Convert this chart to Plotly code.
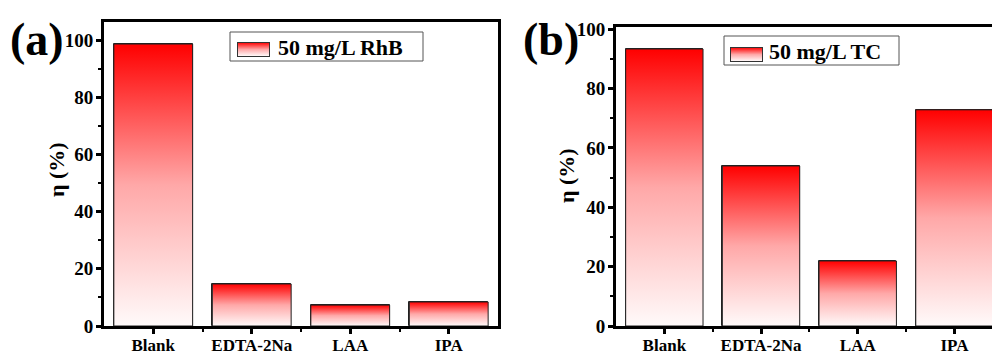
import base64
import plotly.graph_objects as go

# ---------------- data ----------------
categories = ["Blank", "EDTA-2Na", "LAA", "IPA"]
eta_rhb = [98.6, 14.7, 7.3, 8.4]      # panel (a), 50 mg/L RhB
eta_tc = [93.3, 53.9, 21.9, 72.8]     # panel (b), 50 mg/L TC
y_ticks = [0, 20, 40, 60, 80, 100]
legend_a = "50 mg/L RhB"
legend_b = "50 mg/L TC"
y_title = "η (%)"

W, H = 992, 352
FONT = "Liberation Serif"
BAR_W = 0.8
positions = list(range(1, len(categories) + 1))
minor_pos = [p + 0.5 for p in positions[:-1]]
GRAD = [[0, "#fffafa"], [0.5, "#ffa8a8"], [1, "#ff0000"]]


def px_x(p):
    return p / W


def px_y(p):
    return (H - p) / H


fig = go.Figure()


def add_bars(values, xa, ya):
    # outline bars (library bar trace)
    fig.add_trace(go.Bar(
        x=positions, y=values, width=BAR_W, xaxis=xa, yaxis=ya,
        marker=dict(color="rgba(0,0,0,0)", line=dict(color="#222", width=1)),
        showlegend=False, hoverinfo="skip"))
    # gradient fill drawn for each bar from its value
    for p, v in zip(positions, values):
        xs = [p - BAR_W / 2, p - BAR_W / 2, p + BAR_W / 2, p + BAR_W / 2, p - BAR_W / 2]
        ys = [0, v, v, 0, 0]
        fig.add_trace(go.Scatter(
            x=xs, y=ys, xaxis=xa, yaxis=ya, mode="lines", fill="toself",
            line=dict(color="#222", width=1),
            fillgradient=dict(type="vertical", colorscale=GRAD),
            showlegend=False, hoverinfo="skip"))


add_bars(eta_rhb, "x", "y")
add_bars(eta_tc, "x2", "y2")

tickfont = dict(family=FONT, size=19, color="black", weight="bold")
xtickfont = dict(family=FONT, size=17, color="black", weight="bold")

common_x = dict(
    tickmode="array", tickvals=positions, ticktext=categories,
    ticks="outside", ticklen=5, tickwidth=3, tickcolor="black",
    minor=dict(tickvals=minor_pos, ticks="outside", ticklen=3, tickwidth=2, tickcolor="black"),
    showline=True, linewidth=3, linecolor="black", automargin=False,
    ticklabelstandoff=-3,
    showgrid=False, zeroline=False, tickfont=xtickfont, fixedrange=True,
)
common_y = dict(
    tickmode="array", tickvals=y_ticks,
    ticks="outside", ticklen=5, tickwidth=3, tickcolor="black",
    minor=dict(dtick=10, ticks="outside", ticklen=3, tickwidth=2, tickcolor="black"),
    showline=True, linewidth=3, linecolor="black", automargin=False,
    ticklabelstandoff=-1,
    showgrid=False, zeroline=False, tickfont=tickfont, fixedrange=True,
)

fig.update_layout(
    width=W, height=H, margin=dict(l=0, r=0, t=0, b=0, pad=0, autoexpand=False),
    paper_bgcolor="white", plot_bgcolor="white", showlegend=False,
    bargap=0,
    xaxis=dict(common_x, domain=[px_x(104), px_x(498)], range=[0.5, 4.5],
               anchor="y", mirror=True),
    yaxis=dict(common_y, domain=[px_y(326), px_y(22)], range=[0, 106.3],
               anchor="x", mirror=True),
    xaxis2=dict(common_x, domain=[px_x(616), 1.0], range=[0.5, 0.5 + 376 / 96.7],
                anchor="y2", mirror=True),
    yaxis2=dict(common_y, domain=[px_y(326), px_y(27)], range=[0, 100.7],
                anchor="x2", mirror=False),
)

# panel labels and y titles
annots = [
    dict(text="(a)", x=px_x(37), y=px_y(39), font=dict(size=46)),
    dict(text="(b)", x=px_x(551), y=px_y(39), font=dict(size=46)),
    dict(text=y_title, x=px_x(56), y=px_y(170), font=dict(size=22), textangle=-90),
    dict(text=y_title, x=px_x(566), y=px_y(176), font=dict(size=22), textangle=-90),
    dict(text=legend_a, x=px_x(276), y=px_y(47), font=dict(size=22), xanchor="left"),
    dict(text=legend_b, x=px_x(767), y=px_y(51), font=dict(size=22), xanchor="left"),
]
for a in annots:
    f = dict(family=FONT, color="black", weight="bold")
    f.update(a.pop("font"))
    fig.add_annotation(xref="paper", yref="paper", showarrow=False,
                       xanchor=a.pop("xanchor", "center"), yanchor="middle",
                       font=f, **a)

# legend boxes
for (x0, y0, x1, y1) in [(230, 32, 423, 61), (724, 36, 899, 65)]:
    fig.add_shape(type="rect", xref="paper", yref="paper",
                  x0=px_x(x0), x1=px_x(x1), y0=px_y(y1), y1=px_y(y0),
                  line=dict(color="#555", width=1), fillcolor="rgba(0,0,0,0)", layer="above")

# gradient legend swatches
svg = ("<svg xmlns='http://www.w3.org/2000/svg' width='33' height='15' viewBox='0 0 33 15'>"
       "<defs><linearGradient id='g' x1='0' y1='0' x2='0' y2='1'>"
       "<stop offset='0' stop-color='#ff0000'/><stop offset='0.5' stop-color='#ffa8a8'/>"
       "<stop offset='1' stop-color='#ffffff'/>"
       "</linearGradient></defs>"
       "<rect x='0.5' y='0.5' width='32' height='14' fill='url(#g)' stroke='#333' stroke-width='1'/></svg>")
src = "data:image/svg+xml;base64," + base64.b64encode(svg.encode()).decode()
for (sx, sy) in [(237, 42), (730, 47)]:
    fig.add_layout_image(source=src, xref="paper", yref="paper",
                         x=px_x(sx), y=px_y(sy), sizex=33 / W, sizey=15 / H,
                         xanchor="left", yanchor="top", sizing="stretch", layer="above")

fig.write_html("out.html", config={"displayModeBar": False},
               post_script="document.body.style.margin='0';document.body.style.overflow='hidden';")
